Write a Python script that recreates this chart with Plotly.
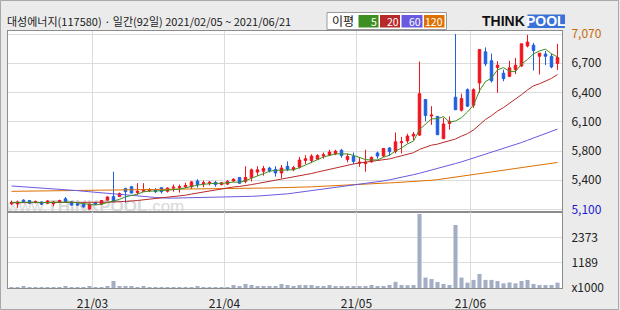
import plotly.graph_objects as go

# ---------------- data ----------------
dates = [
    "2021-02-05", "2021-02-08", "2021-02-09", "2021-02-10", "2021-02-15", "2021-02-16", "2021-02-17",
    "2021-02-18", "2021-02-19", "2021-02-22", "2021-02-23", "2021-02-24", "2021-02-25", "2021-02-26",
    "2021-03-02", "2021-03-03", "2021-03-04", "2021-03-05", "2021-03-08", "2021-03-09", "2021-03-10",
    "2021-03-11", "2021-03-12", "2021-03-15", "2021-03-16", "2021-03-17", "2021-03-18", "2021-03-19",
    "2021-03-22", "2021-03-23", "2021-03-24", "2021-03-25", "2021-03-26", "2021-03-29", "2021-03-30",
    "2021-03-31", "2021-04-01", "2021-04-02", "2021-04-05", "2021-04-06", "2021-04-07", "2021-04-08",
    "2021-04-09", "2021-04-12", "2021-04-13", "2021-04-14", "2021-04-15", "2021-04-16", "2021-04-19",
    "2021-04-20", "2021-04-21", "2021-04-22", "2021-04-23", "2021-04-26", "2021-04-27", "2021-04-28",
    "2021-04-29", "2021-04-30", "2021-05-03", "2021-05-04", "2021-05-06", "2021-05-07", "2021-05-10",
    "2021-05-11", "2021-05-12", "2021-05-13", "2021-05-14", "2021-05-17", "2021-05-18", "2021-05-20",
    "2021-05-21", "2021-05-24", "2021-05-25", "2021-05-26", "2021-05-27", "2021-05-28", "2021-05-31",
    "2021-06-01", "2021-06-02", "2021-06-03", "2021-06-04", "2021-06-07", "2021-06-08", "2021-06-09",
    "2021-06-10", "2021-06-11", "2021-06-14", "2021-06-15", "2021-06-16", "2021-06-17", "2021-06-18",
    "2021-06-21",
]

open_ = [5165, 5163, 5205, 5200, 5180, 5185, 5170, 5165, 5180, 5220, 5185, 5165, 5160, 5105,
         5175, 5160, 5205, 5245, 5245, 5335, 5355, 5290, 5305, 5310, 5320, 5345, 5305, 5340,
         5345, 5355, 5355, 5420, 5390, 5395, 5405, 5380, 5385, 5420, 5460, 5415, 5460, 5520,
         5530, 5565, 5550, 5510, 5585, 5550, 5575, 5650, 5650, 5665, 5700, 5710, 5725, 5765,
         5660, 5695, 5620, 5615, 5635, 5735, 5700, 5790, 5750, 5850, 5870, 5925, 5935, 6335,
         6150, 6145, 5895, 6065, 6360, 6215, 6445, 6270, 6520, 6870, 6770, 6695, 6630, 6595,
         6670, 6710, 6935, 6945, 6820, 6845, 6820, 6740]
high = [5200, 5200, 5215, 5205, 5200, 5190, 5205, 5195, 5210, 5240, 5195, 5175, 5170, 5165,
        5185, 5205, 5250, 5525, 5290, 5345, 5365, 5395, 5395, 5340, 5340, 5350, 5350, 5380,
        5380, 5400, 5420, 5440, 5425, 5420, 5420, 5410, 5430, 5450, 5465, 5585, 5560, 5585,
        5590, 5580, 5585, 5600, 5640, 5590, 5690, 5710, 5720, 5720, 5740, 5770, 5770, 5780,
        5730, 5740, 5690, 5770, 5695, 5750, 5790, 5800, 5965, 5915, 5950, 5970, 6760, 6340,
        6260, 6150, 6130, 6145, 7070, 6400, 6460, 6460, 6895, 6920, 6850, 6765, 6670, 6770,
        6800, 6960, 7060, 6970, 6855, 6880, 6850, 6960]
low = [5150, 5120, 5175, 5165, 5170, 5150, 5160, 5135, 5175, 5185, 5145, 5140, 5120, 5100,
       5150, 5155, 5200, 5185, 5240, 5175, 5280, 5265, 5300, 5295, 5285, 5280, 5290, 5300,
       5290, 5340, 5330, 5345, 5350, 5370, 5355, 5370, 5375, 5410, 5390, 5395, 5415, 5480,
       5480, 5515, 5470, 5450, 5530, 5530, 5560, 5610, 5620, 5655, 5670, 5700, 5710, 5680,
       5630, 5610, 5580, 5525, 5625, 5670, 5690, 5700, 5730, 5730, 5845, 5875, 5925, 6090,
       6050, 5935, 5895, 5995, 6220, 6200, 6250, 6240, 6410, 6710, 6525, 6410, 6540, 6585,
       6620, 6700, 6920, 6660, 6615, 6720, 6685, 6665]
close = [5180, 5185, 5185, 5170, 5190, 5160, 5195, 5185, 5200, 5190, 5150, 5150, 5130, 5160,
         5160, 5200, 5240, 5190, 5280, 5300, 5285, 5305, 5320, 5325, 5300, 5300, 5340, 5350,
         5355, 5370, 5410, 5380, 5400, 5405, 5380, 5400, 5415, 5440, 5395, 5460, 5545, 5545,
         5560, 5535, 5510, 5565, 5550, 5570, 5655, 5670, 5700, 5705, 5715, 5745, 5755, 5705,
         5695, 5640, 5630, 5630, 5685, 5700, 5785, 5750, 5860, 5860, 5925, 5945, 6400, 6155,
         6160, 5940, 6060, 6090, 6220, 6345, 6260, 6445, 6895, 6735, 6545, 6720, 6570, 6690,
         6720, 6960, 6980, 6885, 6855, 6820, 6700, 6805]
volume_k = [45, 40, 50, 40, 45, 38, 42, 45, 40, 55, 45, 42, 40, 50,
            42, 45, 55, 330, 60, 55, 50, 45, 48, 42, 40, 45, 42, 40,
            42, 40, 45, 50, 42, 40, 38, 42, 45, 140, 60, 190, 140, 70,
            60, 70, 80, 190, 140, 70, 140, 140, 140, 70, 60, 140, 70, 60,
            70, 60, 60, 70, 140, 70, 60, 140, 290, 140, 130, 140, 3480, 490,
            420, 280, 190, 140, 2960, 490, 250, 380, 660, 380, 380, 330, 220, 260,
            220, 330, 380, 190, 140, 140, 140, 250]

# 20-day average for the first 19 sessions (prior history not shown)
ma20_head = [5176, 5176, 5176, 5175, 5175, 5175, 5174, 5174, 5174, 5175,
             5175, 5175, 5176, 5177, 5178, 5180, 5182, 5184, 5186]
ma60 = [5364, 5360, 5356, 5352, 5348, 5344, 5339, 5334, 5329, 5324, 5319,
        5312, 5305, 5298, 5291, 5285, 5280, 5275, 5270, 5265, 5261,
        5255, 5248, 5241, 5235, 5229, 5228, 5228, 5229, 5230, 5231,
        5233, 5235, 5236, 5238, 5240, 5241, 5243, 5244, 5246, 5248,
        5251, 5255, 5259, 5263, 5268, 5276, 5285, 5294, 5303, 5313,
        5322, 5331, 5340, 5349, 5358, 5366, 5374, 5382, 5390, 5397,
        5409, 5421, 5433, 5446, 5459, 5475, 5491, 5507, 5524, 5541,
        5560, 5578, 5597, 5616, 5635, 5656, 5677, 5698, 5719, 5740,
        5762, 5785, 5807, 5830, 5852, 5877, 5902, 5927, 5952, 5978, 6003]
ma120 = [5304, 5305, 5306, 5307, 5308, 5309, 5310, 5311, 5312, 5313,
         5315, 5316, 5317, 5318, 5319, 5320, 5321, 5322, 5323, 5324,
         5325, 5326, 5328, 5330, 5331, 5332, 5333, 5334, 5335, 5336,
         5336, 5337, 5337, 5338, 5338, 5339, 5339, 5340, 5340, 5340,
         5340, 5340, 5340, 5341, 5341, 5342, 5343, 5345, 5348, 5351,
         5354, 5358, 5362, 5366, 5370, 5374, 5378, 5381, 5384, 5387,
         5390, 5393, 5396, 5399, 5402, 5405, 5409, 5413, 5417, 5422,
         5428, 5435, 5445, 5453, 5461, 5469, 5478, 5488, 5498, 5508,
         5518, 5528, 5538, 5548, 5558, 5568, 5578, 5588, 5598, 5608, 5618, 5628]

price_tick_labels = ["5,100", "5,400", "5,800", "6,100", "6,400", "6,700", "7,070"]
vol_tick_vals = [0, 1189, 2373]
vol_tick_labels = ["x1000", "1189", "2373"]
month_keys = ["2021-03", "2021-04", "2021-05", "2021-06"]
month_labels = ["21/03", "21/04", "21/05", "21/06"]
ma_labels = ["5", "20", "60", "120"]
title_text = "대성에너지(117580) · 일간(92일) 2021/02/05 ~ 2021/06/21"

# ---------------- derived ----------------
n = len(dates)
xi = list(range(n))
ma5 = []
for i in range(n):
    w = close[max(0, i - 4): i + 1]
    ma5.append(sum(w) / len(w))
ma20 = list(ma20_head) + [sum(close[i - 19: i + 1]) / 20 for i in range(len(ma20_head), n)]

lo, hi = min(low), max(high)
price_tick_vals = [lo + k * (hi - lo) / 6 for k in range(7)]
wpp = (hi - lo) / 175.5          # won per pixel
price_range = [lo - 2.5 * wpp, hi + 3.0 * wpp]
vol_range = [0, 3570]

month_pos = []
for key in month_keys:
    first = next(i for i, d in enumerate(dates) if d.startswith(key))
    month_pos.append(first - 0.5)

# ---------------- styling ----------------
FONT = "Noto Sans CJK KR, Noto Sans, sans-serif"
UP, DOWN = "#f0141e", "#1f5fe0"
C5, C20, C60, C120 = "#3d8f22", "#b82a2a", "#6a5ae0", "#dd7000"
VOLC = "#a3adc4"
GRID = "#dcdcdc"
FRAME = "#8c8c8c"
BG = "#ebebeb"

ticktext_price = list(price_tick_labels)
ticktext_price[0] = '<span style="color:#1a1ad0">' + ticktext_price[0] + '</span>'
ticktext_price[-1] = '<span style="color:#c8690a">' + ticktext_price[-1] + '</span>'

# plot area in pixels: x 8..562, y 31..288
L, R, T, B = 8, 562, 31, 288
def pxx(px):
    return (px - L) / (R - L)
def pxy(py):
    return (B - py) / (B - T)

split = pxy(212)

fig = go.Figure()

# watermark (behind candles: on the base price axis)
fig.add_trace(go.Scatter(
    x=[14], y=[lo + 2 * wpp], mode="text",
    text=["www.<b>THINKPOOL</b>.com"],
    textfont=dict(family="Liberation Sans, Arial", size=17, color="#d9d9d9"),
    textposition="middle center", hoverinfo="skip", showlegend=False,
    xaxis="x", yaxis="y"))

fig.add_trace(go.Candlestick(
    x=xi, open=open_, high=high, low=low, close=close,
    increasing=dict(line=dict(color=UP, width=1), fillcolor=UP),
    decreasing=dict(line=dict(color=DOWN, width=1), fillcolor=DOWN),
    whiskerwidth=0, showlegend=False, xaxis="x", yaxis="y3"))

for vals, col in [(ma120, C120), (ma60, C60), (ma20, C20), (ma5, C5)]:
    fig.add_trace(go.Scatter(x=xi, y=vals, mode="lines",
                             line=dict(color=col, width=1), hoverinfo="skip",
                             showlegend=False, xaxis="x", yaxis="y3"))

fig.add_trace(go.Bar(x=xi, y=volume_k, marker=dict(color=VOLC, line=dict(width=0)),
                     width=0.68, showlegend=False, xaxis="x", yaxis="y2"))

axis_font = dict(family=FONT, size=12, color="#222222")
fig.update_layout(
    width=620, height=310,
    margin=dict(l=L, r=620 - R, t=T, b=310 - B),
    paper_bgcolor=BG, plot_bgcolor="#ffffff",
    boxgap=0.4, bargap=0.3,
    showlegend=False,
    xaxis=dict(domain=[0, 1], range=[-0.583, n - 0.25], anchor="y2",
               tickmode="array", tickvals=month_pos, ticktext=month_labels,
               showgrid=True, gridcolor=GRID, gridwidth=1, zeroline=False,
               showline=True, linecolor=FRAME, linewidth=1, mirror="all",
               ticks="", tickfont=axis_font, ticklabelstandoff=5, automargin=False,
               rangeslider=dict(visible=False), fixedrange=True),
    yaxis=dict(domain=[split, 1], range=price_range, anchor="x", side="right",
               tickmode="array", tickvals=price_tick_vals, ticktext=ticktext_price,
               showgrid=True, gridcolor=GRID, gridwidth=1, zeroline=False,
               showline=True, linecolor=FRAME, linewidth=1, mirror=True,
               ticks="", tickfont=axis_font, ticklabelstandoff=6, automargin=False),
    yaxis3=dict(overlaying="y", range=price_range, side="right", visible=False,
                showgrid=False, zeroline=False),
    yaxis2=dict(domain=[0, split], range=vol_range, anchor="x", side="right",
                tickmode="array", tickvals=vol_tick_vals, ticktext=vol_tick_labels,
                showgrid=True, gridcolor=GRID, gridwidth=1, zeroline=False,
                showline=True, linecolor=FRAME, linewidth=1, mirror=True,
                ticks="", tickfont=axis_font, ticklabelstandoff=6, automargin=False),
)

shapes = []
annotations = []
# outer frame
shapes.append(dict(type="rect", xref="paper", yref="paper",
                   x0=pxx(0.5), x1=pxx(618.5), y0=pxy(0.5), y1=pxy(309.5),
                   line=dict(color="#a8a8a8", width=1), fillcolor="rgba(0,0,0,0)"))
# title
annotations.append(dict(xref="paper", yref="paper", x=pxx(5), y=pxy(21), xanchor="left",
                        yanchor="middle", text=title_text, showarrow=False,
                        font=dict(family=FONT, size=11, color="#1a1a1a")))
# moving-average legend box
shapes.append(dict(type="rect", xref="paper", yref="paper",
                   x0=pxx(327), x1=pxx(446.5), y0=pxy(29.5), y1=pxy(12.5),
                   line=dict(color="#9a9a9a", width=1), fillcolor="#ffffff"))
annotations.append(dict(xref="paper", yref="paper", x=pxx(343), y=pxy(21), xanchor="center",
                        yanchor="middle", text="이평", showarrow=False,
                        font=dict(family=FONT, size=12, color="#111111")))
boxes = [(358.5, 378.5), (380, 400), (401.5, 422.5), (424, 444.5)]
for (bx0, bx1), col, lab in zip(boxes, [C5, C20, C60, C120], ma_labels):
    shapes.append(dict(type="rect", xref="paper", yref="paper",
                       x0=pxx(bx0), x1=pxx(bx1), y0=pxy(27.5), y1=pxy(15),
                       line=dict(width=0), fillcolor=col))
    annotations.append(dict(xref="paper", yref="paper", x=pxx(bx1 - 0.5), y=pxy(21.3),
                            xanchor="right", yanchor="middle", text=lab, showarrow=False,
                            borderpad=0,
                            font=dict(family=FONT, size=10.5, color="#ffffff")))
# THINKPOOL logo
shapes.append(dict(type="rect", xref="paper", yref="paper",
                   x0=pxx(527.5), x1=pxx(565), y0=pxy(28), y1=pxy(14.5),
                   line=dict(width=0), fillcolor="#3a72d8"))
annotations.append(dict(xref="paper", yref="paper", x=pxx(527), y=pxy(21.5), xanchor="right",
                        yanchor="middle", text="<b>THINK</b>", showarrow=False,
                        font=dict(family="Liberation Sans, Arial", size=14, color="#111111")))
annotations.append(dict(xref="paper", yref="paper", x=pxx(546), y=pxy(21.5), xanchor="center",
                        yanchor="middle", text="<b>POOL</b>", showarrow=False,
                        font=dict(family="Liberation Sans, Arial", size=14, color="#ffffff")))

fig.update_layout(shapes=shapes, annotations=annotations)
fig.write_html("out.html")
